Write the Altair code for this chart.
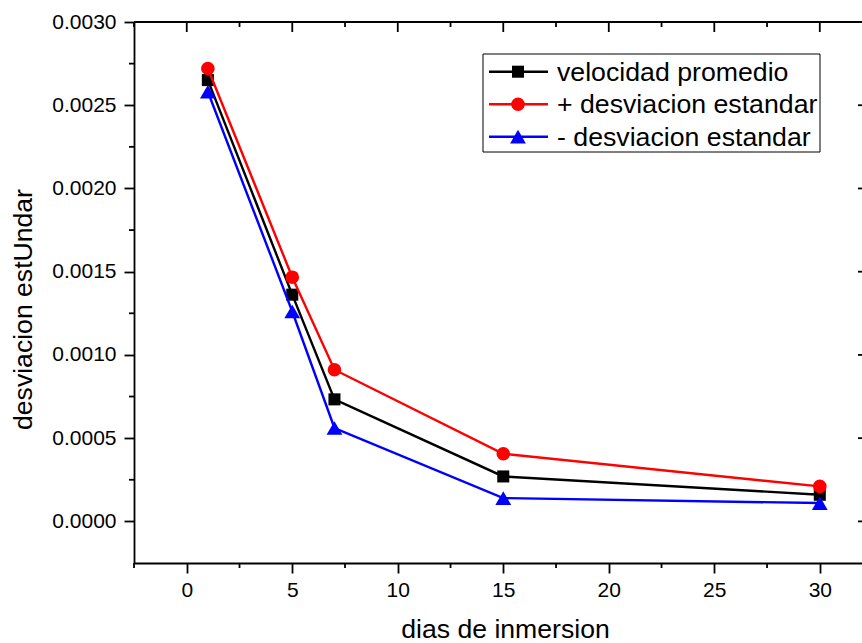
import altair as alt
import pandas as pd

# ---- data ----
dias = [1, 5, 7, 15, 30]
velocidad_promedio = [0.002651, 0.001362, 0.000733, 0.000270, 0.000160]
mas_desviacion = [0.002721, 0.001467, 0.000911, 0.000406, 0.000210]
menos_desviacion = [0.002581, 0.001261, 0.000561, 0.000140, 0.000110]

series = ["velocidad promedio", "+ desviacion estandar", "- desviacion estandar"]
colores = ["#000000", "#ff0000", "#0000ff"]
formas = ["square", "circle", "triangle-up"]
tamanos = [145, 185, 250]

x_major = [0, 5, 10, 15, 20, 25, 30]
x_minor = [-2.5, 2.5, 7.5, 12.5, 17.5, 22.5, 27.5]
y_major = [0.0, 0.0005, 0.0010, 0.0015, 0.0020, 0.0025, 0.0030]
y_minor = [0.00025, 0.00075, 0.00125, 0.00175, 0.00225, 0.00275]

FONT = "Liberation Sans"
W, H = 728, 541

valores = [velocidad_promedio, mas_desviacion, menos_desviacion]
rows = []
for s, vals in zip(series, valores):
    for d, v in zip(dias, vals):
        rows.append({"dias": d, "valor": v, "serie": s})
df = pd.DataFrame(rows)

xs = alt.Scale(domain=[-2.5, 32], nice=False, zero=False)
ys = alt.Scale(domain=[-0.00025, 0.0030], nice=False, zero=False)

AW = 1.8
xaxis = alt.Axis(values=x_major, tickSize=10, tickWidth=AW, tickColor="black",
                 domainColor="black", domainWidth=AW, grid=False,
                 labelFont=FONT, labelFontSize=21, labelColor="black", labelPadding=6,
                 title="dias de inmersion", titleFont=FONT, titleFontSize=26.6,
                 titleFontWeight="normal", titleColor="black", titlePadding=16,
                 titleX=371)
yaxis = alt.Axis(values=y_major, format=".4f", tickSize=10, tickWidth=AW, tickColor="black",
                 domainColor="black", domainWidth=AW, grid=False,
                 labelFont=FONT, labelFontSize=21, labelColor="black", labelPadding=8,
                 title="desviacion estUndar", titleFont=FONT, titleFontSize=26.6,
                 titleFontWeight="normal", titleColor="black", titlePadding=14,
                 titleY=287)

X = lambda f: alt.X(f, type="quantitative", scale=xs, axis=xaxis)
Y = lambda f: alt.Y(f, type="quantitative", scale=ys, axis=yaxis)

layers = []

# data series: line + markers, in drawing order
for s, c, f, sz in zip(series, colores, formas, tamanos):
    sub = alt.Chart(df).transform_filter(alt.datum.serie == s)
    layers.append(sub.mark_line(color=c, strokeWidth=2.4).encode(x=X("dias"), y=Y("valor")))
    layers.append(sub.mark_point(filled=True, shape=f, size=sz, color=c, opacity=1)
                  .encode(x=X("dias"), y=Y("valor")))

# frame: top line, minor and mirrored ticks
dxmin = pd.DataFrame({"v": x_minor})
dxmaj = pd.DataFrame({"v": x_major})
dymin = pd.DataFrame({"v": y_minor})
dymaj = pd.DataFrame({"v": y_major})
one = pd.DataFrame({"k": [0]})

rule = dict(color="black", strokeWidth=AW)
layers.append(alt.Chart(one).mark_rule(**rule).encode(x=alt.value(0), x2=alt.value(W), y=alt.value(0)))
layers.append(alt.Chart(dxmin).mark_rule(**rule).encode(x=X("v"), y=alt.value(H), y2=alt.value(H + 5)))
layers.append(alt.Chart(dxmin).mark_rule(**rule).encode(x=X("v"), y=alt.value(0), y2=alt.value(5)))
layers.append(alt.Chart(dxmaj).mark_rule(**rule).encode(x=X("v"), y=alt.value(0), y2=alt.value(10)))
layers.append(alt.Chart(dymin).mark_rule(**rule).encode(y=Y("v"), x=alt.value(-5), x2=alt.value(0)))
layers.append(alt.Chart(dymaj).mark_rule(**rule).encode(y=Y("v"), x=alt.value(W - 4), x2=alt.value(W)))

# legend box
layers.append(alt.Chart(one).mark_rect(fill="white", stroke="black", strokeWidth=1)
              .encode(x=alt.value(349), x2=alt.value(686), y=alt.value(32), y2=alt.value(130)))
for i, (s, c, f, sz) in enumerate(zip(series, colores, formas, tamanos)):
    ry = 49.7 + i * 32.5
    ld = pd.DataFrame({"serie": [s]})
    layers.append(alt.Chart(ld).mark_rule(color=c, strokeWidth=2.4)
                  .encode(x=alt.value(355), x2=alt.value(414), y=alt.value(ry)))
    layers.append(alt.Chart(ld).mark_point(filled=True, shape=f, size=sz, color=c, opacity=1)
                  .encode(x=alt.value(384), y=alt.value(ry)))
    layers.append(alt.Chart(ld).mark_text(font=FONT, fontSize=26.7, color="black", align="left",
                                          baseline="alphabetic")
                  .encode(x=alt.value(423), y=alt.value(ry + 9), text="serie:N"))

chart = alt.layer(*layers).properties(
    width=W, height=H,
    padding={"left": 134, "top": 22, "right": 0, "bottom": 643 - 22 - H},
    autosize=alt.AutoSizeParams(type="none"),
    background="white",
).configure_view(stroke=None)

chart.save("out.html", embed_options={"renderer": "svg", "actions": False})
